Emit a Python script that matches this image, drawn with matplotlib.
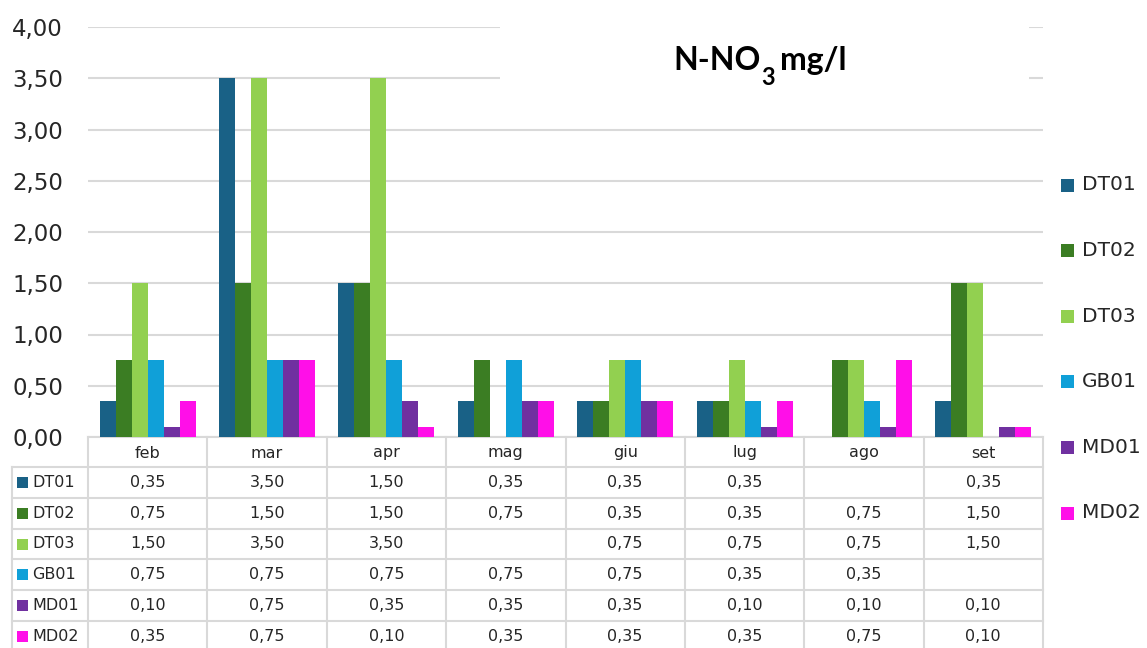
import numpy as np
import matplotlib
matplotlib.use('Agg')
import matplotlib.pyplot as plt
from matplotlib.patches import Rectangle

plt.rcParams['font.family'] = ['DejaVu Sans']

months = ['feb', 'mar', 'apr', 'mag', 'giu', 'lug', 'ago', 'set']
stations = ['DT01', 'DT02', 'DT03', 'GB01', 'MD01', 'MD02']
nan = np.nan
dt01 = [0.35, 3.50, 1.50, 0.35, 0.35, 0.35, nan, 0.35]
dt02 = [0.75, 1.50, 1.50, 0.75, 0.35, 0.35, 0.75, 1.50]
dt03 = [1.50, 3.50, 3.50, nan, 0.75, 0.75, 0.75, 1.50]
gb01 = [0.75, 0.75, 0.75, 0.75, 0.75, 0.35, 0.35, nan]
md01 = [0.10, 0.75, 0.35, 0.35, 0.35, 0.10, 0.10, 0.10]
md02 = [0.35, 0.75, 0.10, 0.35, 0.35, 0.35, 0.75, 0.10]
series = [dt01, dt02, dt03, gb01, md01, md02]
colors = ['#196186', '#3B7D23', '#92D050', '#10A0D8', '#7030A0', '#FF0FE8']
yticks = [0, 0.5, 1, 1.5, 2, 2.5, 3, 3.5, 4]

W, H = 1147, 648
fig = plt.figure(figsize=(W / 100, H / 100), dpi=100)

# plot area in pixels
x0, x1, ytop, ybot = 88, 1043, 27, 437
ax = fig.add_axes([x0 / W, (H - ybot) / H, (x1 - x0) / W, (ybot - ytop) / H])
grid_c = '#D9D9D9'
text_c = '#262626'

bw = 0.134
xs = np.arange(len(months))
for k, (vals, c) in enumerate(zip(series, colors)):
    ax.bar(xs + 0.5 + (k - 2.5) * bw, vals, width=bw, color=c, zorder=3)

ax.set_xlim(0, len(months))
ax.set_ylim(0, 4)
ax.set_yticks(yticks)
ax.set_yticklabels([f'{v:.2f}'.replace('.', ',') for v in yticks], fontsize=16.5, color=text_c)
ax.tick_params(axis='y', length=0, pad=18)
ax.set_xticks([])
for s in ['top', 'right', 'left']:
    ax.spines[s].set_visible(False)
ax.spines['bottom'].set_color(grid_c)
ax.spines['bottom'].set_linewidth(1.5)
ax.grid(axis='y', color=grid_c, linewidth=1.5, zorder=0)

# overlay in pixel coordinates for table, legend, title
ov = fig.add_axes([0, 0, 1, 1])
ov.set_xlim(0, W)
ov.set_ylim(H, 0)
ov.axis('off')

# title box covering the top gridlines
ov.add_patch(Rectangle((500, 12), 529, 90, facecolor='white', edgecolor='none', zorder=2))
t1 = ov.text(673, 70, 'N-NO', fontsize=23, fontweight='bold', family='Lato', va='baseline', zorder=3)
fig.canvas.draw()
r = fig.canvas.get_renderer()
bb = t1.get_window_extent(r)
t2 = ov.text(bb.x1 + 1, 85, '3', fontsize=17, fontweight='bold', family='Lato', va='baseline', zorder=3)
bb2 = t2.get_window_extent(r)
ov.text(bb2.x1 + 5, 70, 'mg/l', fontsize=23, fontweight='bold', family='Lato', va='baseline', zorder=3)

# data table
cw = (x1 - x0) / len(months)
row_h = 30.8
hdr_bot = 467
lw = 1.5
for i in range(len(months) + 1):
    xv = x0 + i * cw
    ov.plot([xv, xv], [ybot, H + 5], color=grid_c, lw=lw, zorder=1)
ov.plot([12, 12], [hdr_bot, H + 5], color=grid_c, lw=lw, zorder=1)
for j in range(len(stations) + 1):
    yh = hdr_bot + j * row_h
    ov.plot([12, x1], [yh, yh], color=grid_c, lw=lw, zorder=1)

for i, m in enumerate(months):
    ov.text(x0 + (i + 0.5) * cw, (ybot + hdr_bot) / 2 + 1, m, fontsize=11.5, color=text_c,
            ha='center', va='center')

for j, (name, vals, c) in enumerate(zip(stations, series, colors)):
    yc = hdr_bot + (j + 0.5) * row_h
    ov.add_patch(Rectangle((17, yc - 5.5), 11, 11, facecolor=c, edgecolor='none'))
    ov.text(32, yc, name, fontsize=11.5, color=text_c, ha='left', va='center')
    for i, v in enumerate(vals):
        if np.isnan(v):
            continue
        ov.text(x0 + (i + 0.5) * cw, yc, f'{v:.2f}'.replace('.', ','), fontsize=11.5,
                color=text_c, ha='center', va='center')

# legend on the right
for j, (name, c) in enumerate(zip(stations, colors)):
    yc = 185 + j * 65.6
    ov.add_patch(Rectangle((1061, yc - 6.5), 13, 13, facecolor=c, edgecolor='none'))
    ov.text(1082, yc, name, fontsize=14.5, color=text_c, ha='left', va='center')

fig.savefig('out.png', dpi=100)
